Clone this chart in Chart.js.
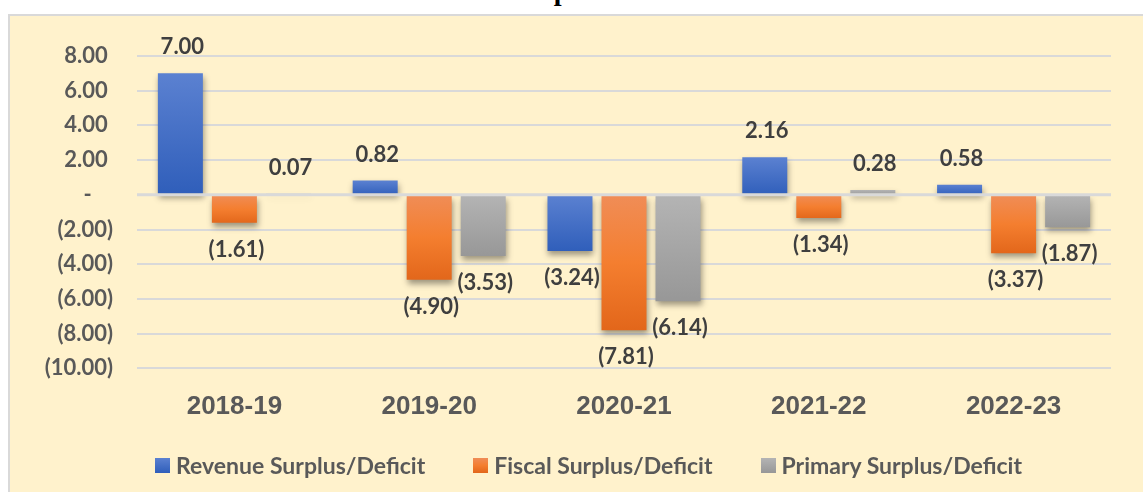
<!DOCTYPE html>
<html>
<head>
<meta charset="utf-8">
<script src="https://cdn.jsdelivr.net/npm/chart.js@4.4.1/dist/chart.umd.min.js"></script>
<style>
  html, body { margin: 0; padding: 0; background: #fff; }
  body { width: 1143px; height: 492px; overflow: hidden; position: relative; }
  #title {
    position: absolute; left: 0; width: 1160px; top: -25px; text-align: center;
    font: bold 28px "Liberation Serif", "Times New Roman", serif; color: #000; white-space: nowrap;
  }
  #box {
    position: absolute; left: 8px; top: 14px; width: 1161px; height: 490px;
    border: 2px solid #d9d9d9; background: #fff2cc;
  }
  #chart { position: absolute; left: 10px; top: 16px; }
  #legend {
    position: absolute; left: 0; width: 1177px; top: 452px; height: 26px;
    display: flex; justify-content: center; align-items: center; gap: 48px;
    font: bold 23px Lato, "Open Sans", sans-serif; color: #595959;
  }
  #legend .item { display: flex; align-items: center; white-space: nowrap; }
  #legend .sw { width: 15px; height: 15px; margin-right: 6px; }
</style>
</head>
<body>
<div id="title">Chart 1.5: Trends in Surplus/Deficit relative to GSDP</div>
<div id="box"></div>
<canvas id="chart" width="1159" height="476"></canvas>
<div id="legend"></div>
<script>
// data (% of GSDP)
const categories = ["2018-19", "2019-20", "2020-21", "2021-22", "2022-23"];
const revenueSurplus = [7.0, 0.82, -3.24, 2.16, 0.58];
const fiscalSurplus = [-1.61, -4.9, -7.81, -1.34, -3.37];
const primarySurplus = [0.07, -3.53, -6.14, 0.28, -1.87];
const seriesNames = ["Revenue Surplus/Deficit", "Fiscal Surplus/Deficit", "Primary Surplus/Deficit"];
const yMin = -10;
const yMax = 8;
const yStep = 2;

// gradient stops, light at top -> dark at bottom
const blueStops = [[0, "#5b81d1"], [1, "#2f5eba"]];
const orangeStops = [[0, "#f08d57"], [0.5, "#f47e2f"], [1, "#e2661a"]];
const grayStops = [[0, "#b4b4b4"], [1, "#979797"]];

const fmt = (v) => {
  if (v > 0) return v.toFixed(2) + " ";
  if (v < 0) return "(" + Math.abs(v).toFixed(2) + ")";
  return "-    ";
};

function barFill(stops) {
  return (ctx) => {
    const chart = ctx.chart;
    const y = chart.scales.y;
    if (ctx.type !== "data" || !y || ctx.raw == null) return stops[0][1];
    const p1 = y.getPixelForValue(ctx.raw);
    const p0 = y.getPixelForValue(0);
    if (!Number.isFinite(p0) || !Number.isFinite(p1)) return stops[0][1];
    const top = Math.min(p0, p1);
    const bot = Math.max(p0, p1) + 1;
    const g = chart.ctx.createLinearGradient(0, top, 0, bot);
    stops.forEach(([o, c]) => g.addColorStop(o, c));
    return g;
  };
}

// shadow under bars, zero line on top, value labels
const barExtras = {
  id: "barExtras",
  beforeDatasetsDraw(chart) {
    const c = chart.ctx;
    c.save();
    c.shadowColor = "rgba(0,0,0,0.38)";
    c.shadowBlur = 6;
    c.shadowOffsetX = 1;
    c.shadowOffsetY = 4;
  },
  afterDatasetsDraw(chart) {
    const c = chart.ctx;
    c.restore();
    const { left, right } = chart.chartArea;
    const y0 = chart.scales.y.getPixelForValue(0);
    c.save();
    c.strokeStyle = "#d9d9d9";
    c.lineWidth = 3;
    c.beginPath();
    c.moveTo(left, y0);
    c.lineTo(right, y0);
    c.stroke();

    c.font = "bold 22px Lato, 'Open Sans', sans-serif";
    c.fillStyle = "#3f3f3f";
    c.textAlign = "center";
    c.textBaseline = "middle";
    chart.data.datasets.forEach((ds, di) => {
      chart.getDatasetMeta(di).data.forEach((el, i) => {
        const v = ds.data[i];
        const ty = v >= 0 ? el.y - 26 : el.y + 27;
        c.fillText(fmt(v).trim(), el.x + 2, ty);
      });
    });
    c.restore();
  },
};

const chart = new Chart(document.getElementById("chart"), {
  type: "bar",
  data: {
    labels: categories,
    datasets: [
      { label: seriesNames[0], data: revenueSurplus, backgroundColor: barFill(blueStops) },
      { label: seriesNames[1], data: fiscalSurplus, backgroundColor: barFill(orangeStops) },
      { label: seriesNames[2], data: primarySurplus, backgroundColor: barFill(grayStops) },
    ],
  },
  options: {
    responsive: false,
    animation: false,
    devicePixelRatio: 1,
    categoryPercentage: 0.832,
    barPercentage: 0.833,
    layout: { padding: { top: 40, bottom: 0, left: 0, right: 0 } },
    plugins: { legend: { display: false }, tooltip: { enabled: false } },
    scales: {
      x: {
        grid: { display: false, drawTicks: false },
        border: { display: false },
        ticks: {
          color: "#595959",
          padding: 23,
          font: { family: "'Liberation Sans', Arial, sans-serif", size: 26, weight: "bold" },
        },
        afterFit: (s) => { s.height = 123.7; },
      },
      y: {
        min: yMin,
        max: yMax,
        ticks: {
          stepSize: yStep,
          padding: 24,
          color: "#595959",
          font: { family: "Lato, 'Open Sans', sans-serif", size: 22, weight: "bold" },
          callback: (v) => fmt(v),
        },
        grid: { color: "#d9d9d9", lineWidth: 2, drawTicks: false },
        border: { display: false },
        afterFit: (s) => { s.width = 127; },
      },
      yRight: {
        position: "right",
        display: true,
        grid: { display: false, drawTicks: false },
        border: { display: false },
        ticks: { display: false },
        afterFit: (s) => { s.width = 58; },
      },
    },
  },
  plugins: [barExtras],
});

// legend
const legend = document.getElementById("legend");
[blueStops, orangeStops, grayStops].forEach((stops, i) => {
  const item = document.createElement("div");
  item.className = "item";
  const sw = document.createElement("span");
  sw.className = "sw";
  sw.style.background = "linear-gradient(" + stops.map(([o, c]) => c + " " + o * 100 + "%").join(",") + ")";
  const txt = document.createElement("span");
  txt.textContent = seriesNames[i];
  item.appendChild(sw);
  item.appendChild(txt);
  legend.appendChild(item);
});
</script>
</body>
</html>
